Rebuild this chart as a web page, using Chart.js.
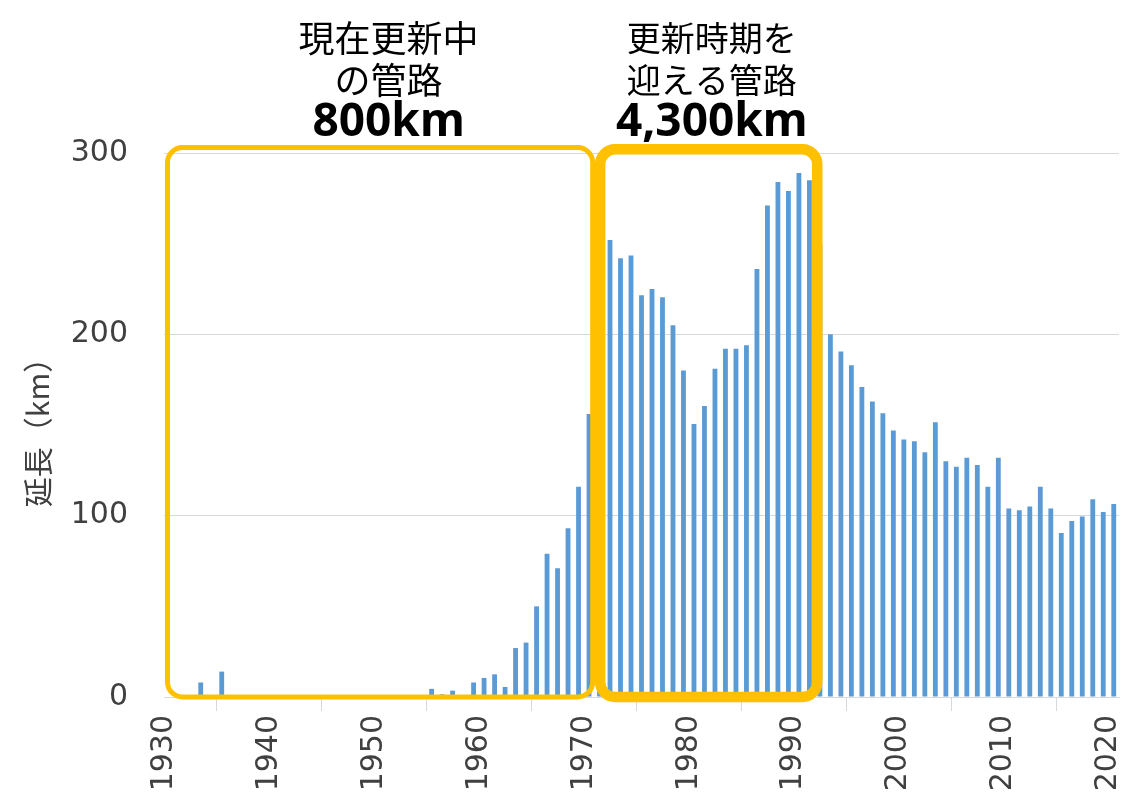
<!DOCTYPE html>
<html>
<head>
<meta charset="utf-8">
<script src="https://cdn.jsdelivr.net/npm/chart.js@4/dist/chart.umd.min.js"></script>
<style>
  html, body { margin: 0; padding: 0; background: #fff; }
  #wrap { width: 1131px; height: 805px; }
</style>
</head>
<body>
<div id="wrap"><canvas id="myChart" width="1131" height="805"></canvas></div>
<script>
// 布設年度ごとの管路延長 (km)
const anios = [];
for (let y = 1930; y <= 2020; y++) anios.push(y);

const longitudes = [
  0, 0, 0, 8, 0, 14, 1, 1, 0, 0,            // 1930-1939
  0, 0.5, 0.5, 0, 0, 0, 0, 0, 0, 0,         // 1940-1949
  0, 0, 0, 1, 0.5, 4.5, 1.5, 3.5, 1, 8,     // 1950-1959
  10.5, 12.5, 5.5, 27, 30, 50, 79, 71, 93, 116, // 1960-1969
  156, 205, 252, 242, 243.5, 221.5, 225, 220.5, 205, 180, // 1970-1979
  150.5, 160.5, 181, 192, 192, 194, 236, 271, 284, 279,   // 1980-1989
  289, 285, 250, 200, 190.5, 183, 171, 163, 156.5, 147,   // 1990-1999
  142, 141, 135, 151.5, 130, 127, 132, 128, 116, 132,     // 2000-2009
  104, 103, 105, 116, 104, 90.5, 97, 99.5, 109, 102,      // 2010-2019
  106.5                                                   // 2020
];

const etiquetasX = [1930, 1940, 1950, 1960, 1970, 1980, 1990, 2000, 2010, 2020];
const etiquetasY = [0, 100, 200, 300];

// recuadros amarillos (en unidades de los ejes)
const recuadros = [
  { x0: 1930.33, x1: 1970.85, y0: 0, y1: 303, ancho: 5,
    lineas: ['現在更新中', 'の管路'], total: '800km', cx: 1951.4, fuente: 36 },
  { x0: 1971.56, x1: 1992.25, y0: 0, y1: 302, ancho: 10.5,
    lineas: ['更新時期を', '迎える管路'], total: '4,300km', cx: 1982.2, fuente: 34 }
];

const pluginRecuadros = {
  id: 'recuadros',
  afterDatasetsDraw(chart) {
    const { ctx, scales: { x, y } } = chart;
    ctx.save();
    ctx.strokeStyle = '#FFC000';
    for (const r of recuadros) {
      const l = x.getPixelForValue(r.x0), rr = x.getPixelForValue(r.x1);
      const t = y.getPixelForValue(r.y1), b = y.getPixelForValue(r.y0);
      ctx.lineWidth = r.ancho;
      ctx.beginPath();
      ctx.roundRect(l, t, rr - l, b - t, 15);
      ctx.stroke();
    }
    ctx.restore();
  },
  afterDraw(chart) {
    const { ctx, chartArea, scales: { x } } = chart;
    ctx.save();
    ctx.fillStyle = '#000';
    ctx.textAlign = 'center';
    ctx.textBaseline = 'middle';
    for (const r of recuadros) {
      const cx = x.getPixelForValue(r.cx);
      ctx.font = r.fuente + 'px "Noto Sans CJK JP"';
      ctx.fillText(r.lineas[0], cx, chartArea.top - 115);
      ctx.fillText(r.lineas[1], cx, chartArea.top - 73);
      ctx.font = 'bold 46px "Noto Sans"';
      ctx.fillText(r.total, cx, chartArea.top - 30);
    }
    ctx.restore();
  }
};

const ctx = document.getElementById('myChart');

new Chart(ctx, {
  type: 'bar',
  data: {
    datasets: [{
      label: '延長',
      data: anios.map((a, i) => ({ x: a + 0.5, y: longitudes[i] })),
      backgroundColor: '#5B9BD5',
      borderWidth: 0,
      barPercentage: 0.46,
      categoryPercentage: 1.0
    }]
  },
  options: {
    responsive: false,
    animation: false,
    layout: { padding: { top: 153, right: 12, left: 0, bottom: 0 } },
    plugins: {
      legend: { display: false },
      tooltip: { enabled: false }
    },
    scales: {
      x: {
        type: 'linear',
        min: 1930,
        max: 2021,
        offset: false,
        afterFit: s => { s.height = 108; s.paddingLeft = 0; s.paddingRight = 0; },
        afterBuildTicks: s => { s.ticks = etiquetasX.map(v => ({ value: v })); },
        grid: {
          drawOnChartArea: false,
          drawTicks: true,
          tickLength: 14,
          color: '#d9d9d9'
        },
        border: { display: true, color: '#d9d9d9' },
        ticks: {
          minRotation: 90,
          maxRotation: 90,
          autoSkip: false,
          padding: 4,
          color: '#404040',
          font: { family: 'DejaVu Sans', size: 30 },
          callback: v => String(v)
        }
      },
      y: {
        min: 0,
        max: 300,
        afterFit: s => { s.width = 164; s.paddingTop = 0; s.paddingBottom = 0; },
        afterBuildTicks: s => { s.ticks = etiquetasY.map(v => ({ value: v })); },
        grid: { color: '#d9d9d9', drawTicks: false },
        border: { display: false },
        ticks: {
          padding: 36,
          color: '#404040',
          font: { family: 'DejaVu Sans', size: 30 }
        },
        title: {
          display: true,
          text: '延長（km）',
          color: '#404040',
          padding: { top: 20, bottom: 0 },
          font: { family: 'Noto Sans CJK JP', size: 30 }
        }
      }
    }
  },
  plugins: [pluginRecuadros]
});
</script>
</body>
</html>
